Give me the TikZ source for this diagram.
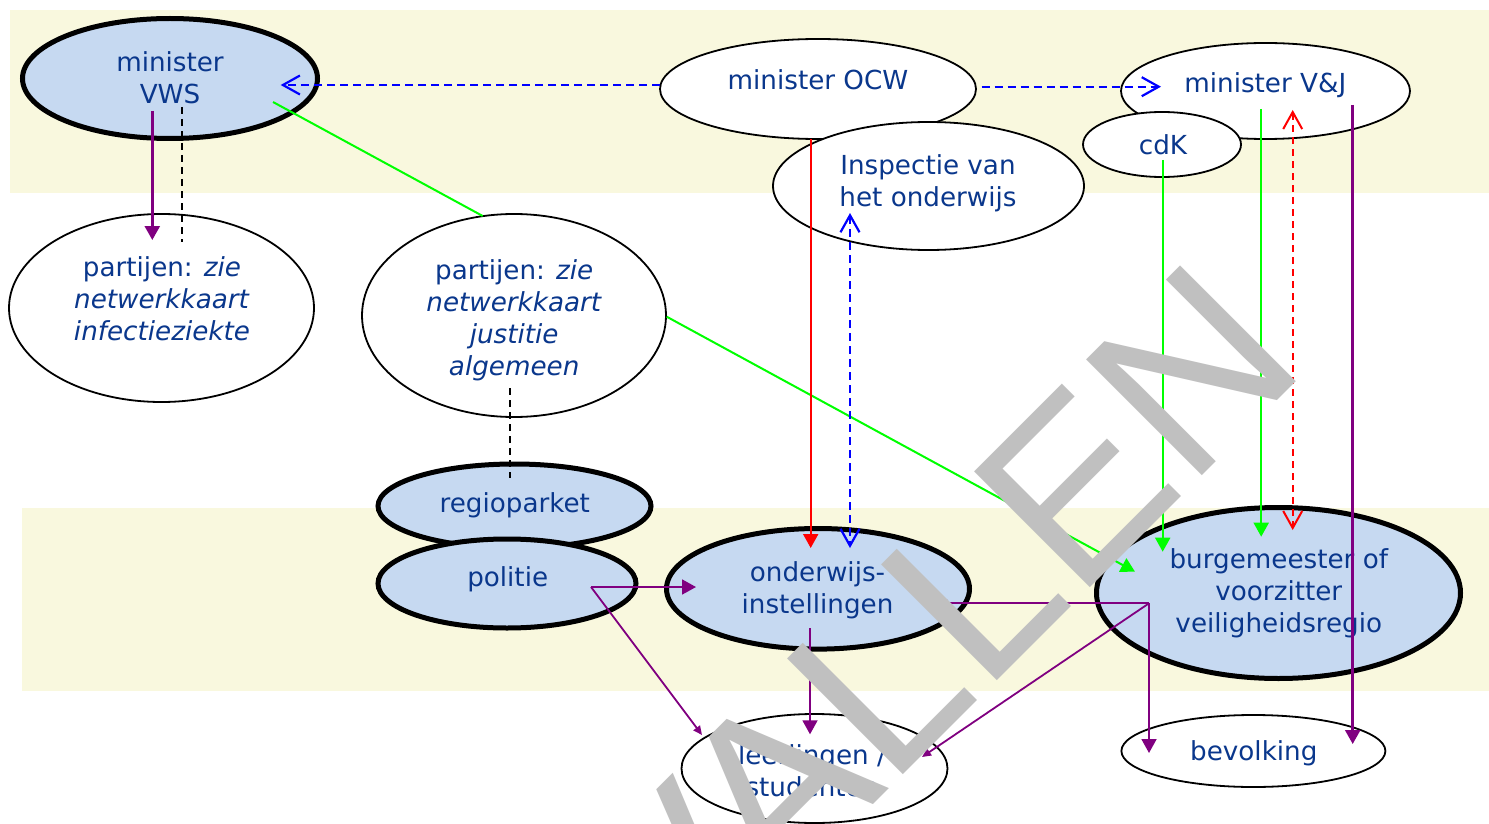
\documentclass[tikz,border=0pt]{standalone}
\usepackage{fontspec}
\setmainfont{DejaVu Sans}
\newfontfamily\wmfont{Liberation Sans}
\usetikzlibrary{shapes.geometric,arrows.meta}
\definecolor{band}{RGB}{249,248,222}
\definecolor{keyblue}{RGB}{198,217,241}
\definecolor{txtblue}{RGB}{10,55,140}
\definecolor{lpurple}{RGB}{128,0,128}
\definecolor{lgreen}{RGB}{0,255,0}
\definecolor{lred}{RGB}{255,0,0}
\definecolor{lblue}{RGB}{0,0,255}
\definecolor{wm}{RGB}{192,192,192}
\tikzset{
  ell/.style={ellipse, draw=black, line width=0.9pt, fill=white, inner sep=0pt},
  keyell/.style={ellipse, draw=black, line width=2.5pt, fill=keyblue, inner sep=0pt},
  lbl/.style={text=txtblue, font=\fontsize{13.1}{16}\selectfont, align=center, inner sep=0pt},
  ftip/.style={-{Triangle[length=7pt,width=7.5pt]}},
  stip/.style={-{Triangle[length=4.5pt,width=4pt]}},
  obarb/.style={-{Straight Barb[length=8.5pt,width=9.5pt]}},
  dbarb/.style={{Straight Barb[length=8.5pt,width=9.5pt]}-{Straight Barb[length=8.5pt,width=9.5pt]}},
  bluedash/.style={draw=lblue, line width=1.1pt, dash pattern=on 4pt off 2.5pt},
  reddash/.style={draw=lred, line width=1pt, dash pattern=on 3.5pt off 2.5pt},
  blackdash/.style={draw=black, line width=0.9pt, dash pattern=on 3.5pt off 2.5pt},
  purpleln/.style={draw=lpurple, line width=1.3pt},
  thinpurple/.style={draw=lpurple, line width=0.9pt},
  greenln/.style={draw=lgreen, line width=1pt},
  redln/.style={draw=lred, line width=1pt},
  wmark/.style={text=wm, inner sep=0pt, font=\wmfont\fontsize{119}{119}\selectfont}
}
\begin{document}
\begin{tikzpicture}[x=0.5pt,y=-0.5pt]
\useasboundingbox (0,0) rectangle (1489,824);
\clip (0,0) rectangle (1489,824);
\fill[white] (0,0) rectangle (1489,824);
% bands
\fill[band] (10,10) rectangle (1489,193);
\fill[band] (22,508) rectangle (1489,691);

% ellipses
\node[keyell, minimum width=147.5pt, minimum height=60pt] (vws) at (170,78.5) {};
\node[ell, minimum width=158pt, minimum height=50pt] (ocw) at (818,89) {};
\node[ell, minimum width=144.5pt, minimum height=48pt] (vj) at (1265.5,91) {};
\node[ell, minimum width=79pt, minimum height=32.5pt] (cdk) at (1162,144.5) {};
\node[ell, minimum width=155.5pt, minimum height=64pt] (insp) at (928.5,186) {};
\node[ell, minimum width=152.5pt, minimum height=94pt] (inf) at (161.5,308) {};
\node[ell, minimum width=152pt, minimum height=101.5pt] (just) at (514,315.5) {};
\node[keyell, minimum width=136.5pt, minimum height=42pt] (regio) at (514.5,506) {};
\node[keyell, minimum width=129pt, minimum height=44.5pt] (pol) at (507,583.5) {};
\node[keyell, minimum width=151.5pt, minimum height=60.3pt] (ond) at (818,588.8) {};
\node[keyell, minimum width=182pt, minimum height=85.5pt] (burg) at (1278.5,593) {};
\node[ell, minimum width=133pt, minimum height=54.5pt] (leer) at (814.5,768.5) {};
\node[ell, minimum width=132pt, minimum height=36pt] (bev) at (1253.4,751) {};

% texts
\node[lbl] (t-vws) at (170,77.6) {minister\\VWS};
\node[lbl, anchor=base] (t-ocw) at (818,89.3) {minister OCW};
\node[lbl, anchor=base] (t-vj) at (1265.3,92.7) {minister V\&J};
\node[lbl, anchor=base] (t-cdk) at (1163,155) {cdK};
\node[lbl] (t-insp) at (928,183.5) {Inspectie van\\het onderwijs};
\node[lbl] (t-inf) at (162,298.5) {partijen: \textit{zie}\\\textit{netwerkkaart}\\\textit{infectieziekte}};
\node[lbl] (t-just) at (514.2,319.8) {partijen: \textit{zie}\\\textit{netwerkkaart}\\\textit{justitie}\\\textit{algemeen}};
\node[lbl, anchor=base] (t-regio) at (514.8,512.5) {regioparket};
\node[lbl, anchor=base] (t-pol) at (507.7,586.7) {politie};
\node[lbl] (t-ond) at (817.5,590.6) {onderwijs-\\instellingen};
\node[lbl] (t-burg) at (1278.8,593.2) {burgemeester of\\voorzitter\\veiligheidsregio};
\node[lbl] (t-leer) at (812,771) {leerlingen /\\studenten};
\node[lbl, anchor=base] (t-bev) at (1253.8,760.7) {bevolking};

% connector end points
\coordinate (vws-b1) at (152.3,111);
\coordinate (inf-t1) at (152.3,240);
\coordinate (vws-b2) at (182,107);
\coordinate (inf-t2) at (182,242);
\coordinate (vws-g) at (273,102);
\coordinate (just-t) at (482.7,216);
\coordinate (vws-e) at (280.7,85);
\coordinate (ocw-w) at (660,85);
\coordinate (ocw-e) at (981.7,86.7);
\coordinate (vj-w) at (1161,86.7);
\coordinate (ocw-s) at (810.7,139);
\coordinate (ond-t1) at (810.7,548);
\coordinate (insp-b) at (850,213);
\coordinate (ond-t2) at (850,548);
\coordinate (just-e) at (666.7,316.7);
\coordinate (burg-w) at (1135,571.7);
\coordinate (cdk-s) at (1162.7,160);
\coordinate (burg-t1) at (1162.7,551.7);
\coordinate (vj-s1) at (1261.2,109);
\coordinate (burg-t2) at (1261.2,536.7);
\coordinate (vj-s2) at (1292.7,110);
\coordinate (burg-t3) at (1292.7,530);
\coordinate (vj-s3) at (1352.7,105);
\coordinate (bev-t2) at (1352.7,744);
\coordinate (just-b) at (510,388);
\coordinate (regio-t) at (510,478);
\coordinate (pol-c) at (591,587);
\coordinate (ond-w) at (696,587);
\coordinate (leer-l) at (702,735);
\coordinate (ond-b) at (810,628.3);
\coordinate (leer-t) at (810,734.3);
\coordinate (burg-c) at (1149,603.3);
\coordinate (ond-e) at (938,603.3);
\coordinate (leer-r) at (922,757);
\coordinate (bev-t1) at (1149,753);

% connectors
\draw[bluedash, obarb] (ocw-w) -- (vws-e);
\draw[bluedash, obarb] (ocw-e) -- (vj-w);
\draw[purpleln, ftip] (vws-b1) -- (inf-t1);
\draw[blackdash] (vws-b2) -- (inf-t2);
\draw[greenln] (vws-g) -- (just-t);
\draw[greenln, ftip] (just-e) -- (burg-w);
\draw[blackdash] (just-b) -- (regio-t);
\draw[redln, ftip] (ocw-s) -- (ond-t1);
\draw[bluedash, dbarb] (insp-b) -- (ond-t2);
\draw[greenln, ftip] (cdk-s) -- (burg-t1);
\draw[greenln, ftip] (vj-s1) -- (burg-t2);
\draw[reddash, dbarb] (vj-s2) -- (burg-t3);
\draw[purpleln, ftip] (vj-s3) -- (bev-t2);
\draw[thinpurple, ftip] (pol-c) -- (ond-w);
\draw[thinpurple, stip] (pol-c) -- (leer-l);
\draw[thinpurple, ftip] (ond-b) -- (leer-t);
\draw[thinpurple, stip] (burg-c) -- (ond-e);
\draw[thinpurple, stip] (burg-c) -- (leer-r);
\draw[thinpurple, ftip] (burg-c) -- (bev-t1);

% watermark
\node[wmark, rotate=45, anchor=base east] (wmk) at (1310.8,367.2) {VERVALLEN};
\end{tikzpicture}
\end{document}
